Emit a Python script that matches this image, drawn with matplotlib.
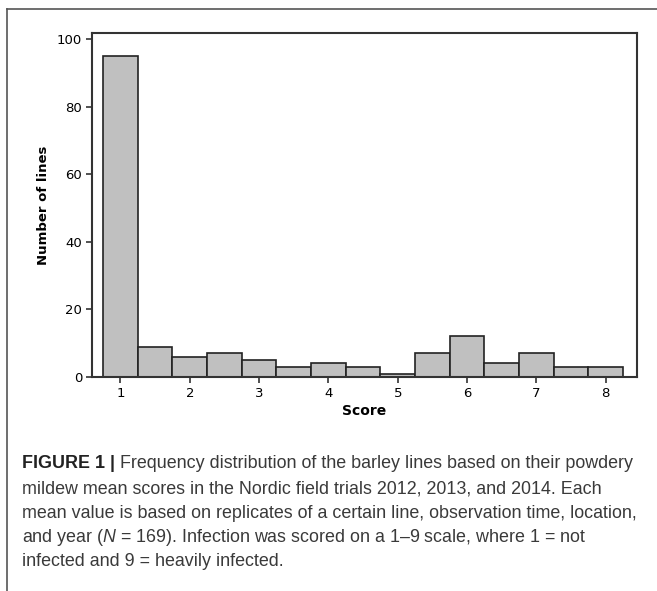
import matplotlib.pyplot as plt
from matplotlib.lines import Line2D

plt.rcParams['mathtext.fontset'] = 'custom'
plt.rcParams['mathtext.it'] = 'Liberation Sans:italic'
plt.rcParams['mathtext.rm'] = 'Liberation Sans'

# histogram of mean scores, bins 0.5 wide
bin_centers = [1, 1.5, 2, 2.5, 3, 3.5, 4, 4.5, 5, 5.5, 6, 6.5, 7, 7.5, 8]
counts = [95, 9, 6, 7, 5, 3, 4, 3, 1, 7, 12, 4, 7, 3, 3]
xticks = [1, 2, 3, 4, 5, 6, 7, 8]
yticks = [0, 20, 40, 60, 80, 100]

caption_head = 'FIGURE 1 | '
caption_lines = [
    "Frequency distribution of the barley lines based on their powdery",
    "mildew mean scores in the Nordic field trials 2012, 2013, and 2014. Each",
    "mean value is based on replicates of a certain line, observation time, location,",
    "and year ($\\it{N}$ = 169). Infection was scored on a 1\u20139 scale, where 1 = not",
    "infected and 9 = heavily infected.",
]

W, H = 657, 591
fig = plt.figure(figsize=(W / 100, H / 100), dpi=100)
ax = fig.add_axes([92 / W, 1 - 377 / H, (637 - 92) / W, (377 - 33) / H])

ax.bar(bin_centers, counts, width=0.5, color='#c0c0c0', edgecolor='#222222', linewidth=1.2)
ax.set_xlim(0.59, 8.45)
ax.set_ylim(0, 101.8)
ax.set_xticks(xticks)
ax.set_yticks(yticks)
for s in ax.spines.values():
    s.set_color('#333333')
    s.set_linewidth(1.5)
ax.tick_params(direction='out', length=4, width=1.2, color='#333333', labelsize=9.5, pad=3)
ax.set_xlabel('Score', fontsize=10, fontweight='bold', labelpad=3)
ax.set_ylabel('Number of lines', fontsize=9.5, fontweight='bold', labelpad=5)

# panel frame (top and left edges)
fig.add_artist(Line2D([7 / W, 1], [1 - 9 / H, 1 - 9 / H], color='#555555', lw=1.2))
fig.add_artist(Line2D([7 / W, 7 / W], [0, 1 - 9 / H], color='#555555', lw=1.2))

# caption, sized so the longest line spans x = 22..638 px
fs = 12
renderer = fig.canvas.get_renderer()
probe = fig.text(0, 0, caption_lines[2], fontsize=fs, family='Liberation Sans')
wpx = probe.get_window_extent(renderer).width
probe.remove()
fs = fs * 616 / wpx

line_y = [464, 489, 513, 538, 562]
head = fig.text(22 / W, 1 - line_y[0] / H, caption_head, fontsize=fs, fontweight='bold',
                family='Liberation Sans', va='center', color='#222222')
hw = head.get_window_extent(renderer).width
for i, (txt, y) in enumerate(zip(caption_lines, line_y)):
    x0 = 22 + (hw if i == 0 else 0)
    fig.text(x0 / W, 1 - y / H, txt, fontsize=fs, family='Liberation Sans',
             va='center', color='#3a3a3a')

fig.savefig('out.png', dpi=100)
